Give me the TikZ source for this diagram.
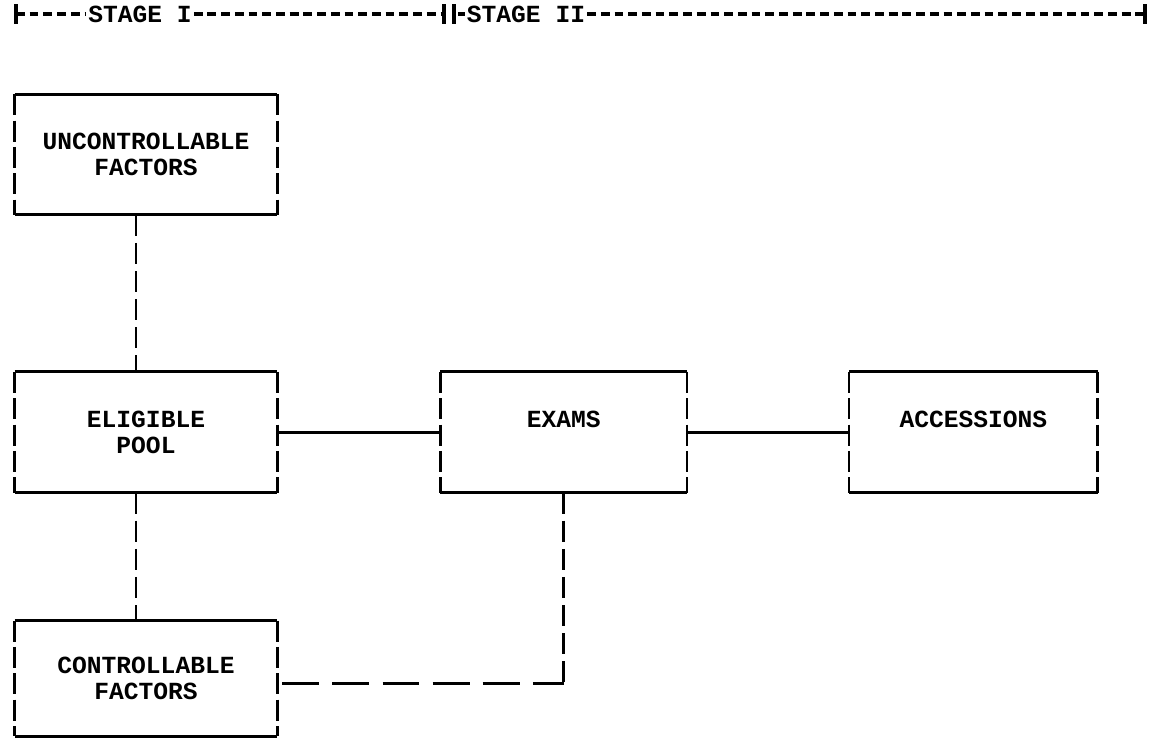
\documentclass[tikz,border=0pt]{standalone}
\usepackage{fontspec}
\setmonofont{Liberation Mono}
\usetikzlibrary{positioning}

\begin{document}
\begin{tikzpicture}[
        node distance=3.14cm and 3.26cm,
        tbox/.style={rectangle, inner sep=0pt, minimum width=5.24cm, minimum height=2.4cm, align=center, font=\ttfamily\bfseries\fontsize{14}{14.5}\selectfont},
        stagelabel/.style={inner sep=1pt, font=\ttfamily\bfseries\fontsize{14}{14.5}\selectfont},
        rule/.style={line width=1.6pt},
        side/.style={line width=1.6pt, dash pattern=on 12pt off 3pt},
        link/.style={line width=1.5pt},
        barlink/.style={line width=1.5pt, dash pattern=on 12pt off 4pt},
        longlink/.style={line width=1.5pt, dash pattern=on 21pt off 7.5pt},
        hyph/.style={line width=1.8pt, dash pattern=on 5pt off 2.8pt},
        bar/.style={line width=1.8pt}
    ]
        \useasboundingbox (0,0) rectangle (23.12,-14.78);

        % stage header
        \coordinate (b0) at (0.32,-0.28);
        \coordinate (b1) at (8.88,-0.28);
        \coordinate (b2) at (9.08,-0.28);
        \coordinate (b3) at (22.90,-0.28);
        \node[stagelabel] (stage1) at (2.8,-0.28) {STAGE I};
        \node[stagelabel] (stage2) at (10.52,-0.28) {STAGE II};
        \foreach \b in {b0,b1,b2,b3}
            \draw[bar] ([yshift=0.19cm]\b) -- ([yshift=-0.19cm]\b);
        \draw[hyph] (b0) -- (stage1.west);
        \draw[hyph] (stage1.east) -- (b1);
        \draw[hyph] ([xshift=0.08cm]b2) -- (stage2.west);
        \draw[hyph] (stage2.east) -- (b3);

        % boxes
        \node[tbox] (unctrl) at (2.92,-3.09) {UNCONTROLLABLE\\FACTORS};
        \node[tbox, below=of unctrl] (pool) {ELIGIBLE\\POOL};
        \node[tbox, minimum width=4.92cm, right=of pool] (exams) {EXAMS\\\mbox{}};
        \node[tbox, minimum width=4.96cm, right=3.24cm of exams] (acc) {ACCESSIONS\\\mbox{}};
        \node[tbox, minimum height=2.3cm, below=2.56cm of pool] (ctrl) {CONTROLLABLE\\FACTORS};

        \foreach \n in {unctrl,pool,exams,acc,ctrl} {
            \draw[rule] (\n.north west) -- (\n.north east);
            \draw[rule] (\n.south west) -- (\n.south east);
            \draw[side] (\n.north west) -- (\n.south west);
            \draw[side] (\n.north east) -- (\n.south east);
        }

        % links
        \draw[barlink] ([xshift=-0.2cm]unctrl.south) -- ([xshift=-0.2cm]pool.north);
        \draw[link] (pool.east) -- (exams.west);
        \draw[link] (exams.east) -- (acc.west);
        \draw[barlink] ([xshift=-0.2cm]pool.south) -- ([xshift=-0.2cm]ctrl.north);
        \coordinate (bend) at ([yshift=-0.1cm]exams.south |- ctrl.east);
        \draw[barlink] (exams.south) -- (bend);
        \draw[longlink] ([xshift=0.1cm]bend -| ctrl.east) -- (bend);

    \end{tikzpicture}
\end{document}
